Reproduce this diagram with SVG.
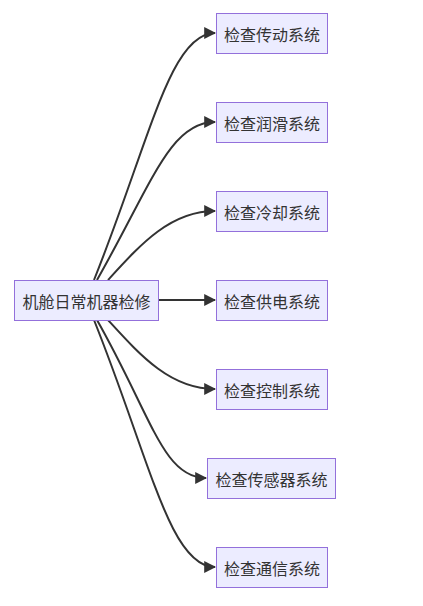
<svg xmlns="http://www.w3.org/2000/svg" width="423" height="606" viewBox="0 0 423 606">
<style>
.node rect{fill:#ECECFF;stroke:#9370DB;stroke-width:1px}
.node text{font-family:"Noto Sans CJK SC","Liberation Sans",sans-serif;font-size:16px;fill:#333;text-anchor:middle;dominant-baseline:central}
.edge{fill:none;stroke:#333;stroke-width:2px}
</style>
<defs>
<marker id="arrow" markerUnits="userSpaceOnUse" markerWidth="12" markerHeight="12" viewBox="0 0 10 10" refX="9" refY="5" orient="auto">
<path d="M0,0 L10,5 L0,10 z" fill="#333"/>
</marker>
</defs>
<rect width="423" height="606" fill="#fff"/>
<g id="edges">
<path class="edge" marker-end="url(#arrow)" d="M94,280 C150,140 170,33 215,33"/>
<path class="edge" marker-end="url(#arrow)" d="M97,280 C152,183 170,122 215,122"/>
<path class="edge" marker-end="url(#arrow)" d="M108,280 C140,245 170,211 215,211"/>
<path class="edge" marker-end="url(#arrow)" d="M158,300 L215,300"/>
<path class="edge" marker-end="url(#arrow)" d="M108,320 C140,355 170,389 215,389"/>
<path class="edge" marker-end="url(#arrow)" d="M97,320 C152,417 163,478 206,478"/>
<path class="edge" marker-end="url(#arrow)" d="M94,320 C150,460 170,567 215,567"/>
</g>
<g id="root" class="node"><rect x="14.5" y="280.5" width="144" height="40"/><text x="86.5" y="300.5">机舱日常机器检修</text></g>
<g id="n1" class="node"><rect x="216.5" y="13.5" width="111" height="40"/><text x="272" y="33.5">检查传动系统</text></g>
<g id="n2" class="node"><rect x="216.5" y="102.5" width="111" height="40"/><text x="272" y="122.5">检查润滑系统</text></g>
<g id="n3" class="node"><rect x="216.5" y="191.5" width="111" height="40"/><text x="272" y="211.5">检查冷却系统</text></g>
<g id="n4" class="node"><rect x="216.5" y="280.5" width="111" height="40"/><text x="272" y="300.5">检查供电系统</text></g>
<g id="n5" class="node"><rect x="216.5" y="369.5" width="111" height="40"/><text x="272" y="389.5">检查控制系统</text></g>
<g id="n6" class="node"><rect x="207.5" y="458.5" width="128" height="40"/><text x="271.5" y="478.5">检查传感器系统</text></g>
<g id="n7" class="node"><rect x="216.5" y="547.5" width="111" height="40"/><text x="272" y="567.5">检查通信系统</text></g>
</svg>
